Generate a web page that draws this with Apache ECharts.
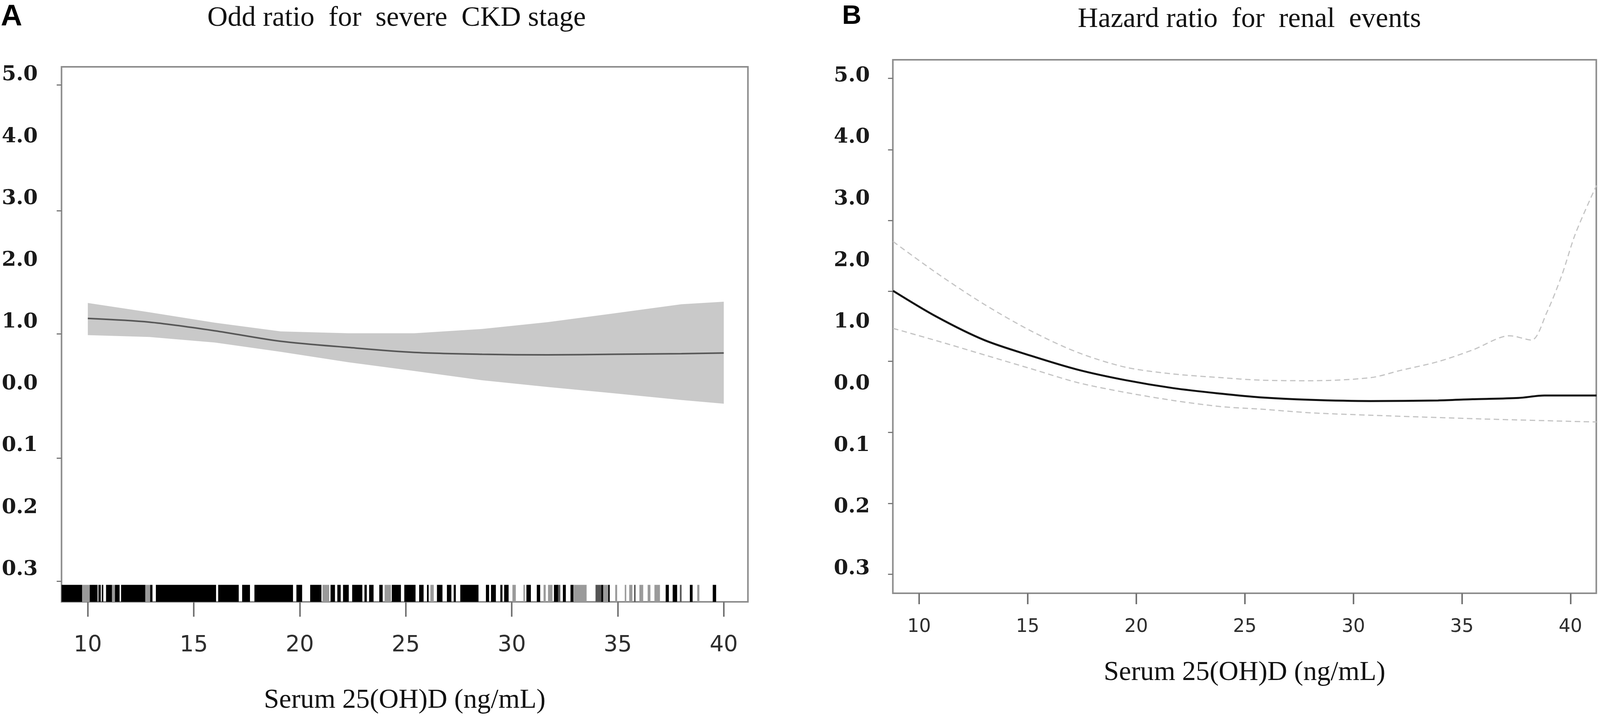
<html>
<head>
    <meta charset="utf-8">
    <script src="https://cdn.jsdelivr.net/npm/echarts@6/dist/echarts.min.js"></script>
    <style>
        body { margin: 0; background: #fff; overflow: hidden; }
        #main { width: 100vw; height: 100vh; }
    </style>
</head>
<body>
    <div id="main"></div>
    <script>
        // y positions are label slots: 0 = "0.3" at the bottom ... 8 = "5.0" at the top
        var yLabelText = ['0.3', '0.2', '0.1', '0.0', '1.0', '2.0', '3.0', '4.0', '5.0'];
        var yLabelPos = [0, 1, 2, 3, 4, 5, 6, 7, 8];
        var yTicksA = [-0.19, 1.80, 3.81, 5.80, 7.84];
        var yTicksB = [-0.09, 1.06, 2.21, 3.37, 4.50, 5.65, 6.80, 7.96];
        var xTicks = [10, 15, 20, 25, 30, 35, 40];

        // panel A: odds ratio curve with grey band
        var aX = [10, 12.9, 16, 19.1, 22.3, 25.4, 28.6, 31.7, 34.8, 38, 40];
        var aFit = [4.06, 4.00, 3.86, 3.69, 3.59, 3.51, 3.48, 3.47, 3.48, 3.49, 3.50];
        var aUpper = [4.31, 4.16, 3.99, 3.85, 3.82, 3.82, 3.89, 4.00, 4.14, 4.29, 4.33];
        var aLower = [3.79, 3.76, 3.67, 3.52, 3.35, 3.21, 3.06, 2.95, 2.85, 2.74, 2.68];

        // panel A rug: [from, to] in ng/mL
        var rugDark = [
            [8.76, 9.73], [10.09, 10.46], [10.50, 10.61], [10.66, 10.73], [10.86, 11.14],
            [11.28, 11.50], [11.57, 12.71], [12.94, 13.05], [13.21, 16.05], [16.15, 17.12],
            [17.28, 17.65], [17.86, 19.68], [19.84, 20.11], [20.49, 21.02], [21.45, 21.66],
            [21.77, 21.93], [22.04, 22.31], [22.47, 22.95], [23.05, 23.16], [23.27, 23.48],
            [23.75, 23.91], [24.34, 24.77], [24.93, 25.46], [25.63, 25.84], [26.00, 26.08],
            [26.47, 26.73], [26.94, 27.15], [27.26, 27.36], [27.57, 28.43], [28.78, 28.93],
            [29.02, 29.25], [29.46, 29.56], [29.64, 29.85], [30.69, 30.90], [31.18, 31.34],
            [31.99, 32.18], [32.41, 32.55], [32.77, 32.91], [34.22, 34.31], [34.55, 34.62],
            [37.26, 37.41], [37.59, 37.80], [38.40, 38.53], [39.48, 39.64]
        ];
        var rugMid = [
            [33.95, 34.22], [35.77, 35.84], [37.93, 38.01], [32.14, 32.29]
        ];
        var rugLight = [
            [9.73, 10.09], [11.14, 11.28], [12.71, 12.94], [21.07, 21.39], [24.00, 24.30],
            [26.16, 26.32], [30.03, 30.19], [30.55, 30.61], [31.50, 31.60], [31.71, 31.92],
            [32.92, 33.53], [34.31, 34.55], [34.88, 34.97], [35.33, 35.40], [35.54, 35.69],
            [36.02, 36.20], [36.41, 36.54], [36.73, 36.99], [38.75, 38.85]
        ];

        // panel B: hazard ratio curve with dashed limits
        var bFitX = [8.8, 10.8, 13, 15.2, 17.3, 19.5, 21.7, 23.9, 25.7, 28, 30.8, 33.9, 35.5, 37.6, 38.8, 41.2];
        var bFit = [4.51, 4.09, 3.71, 3.45, 3.23, 3.06, 2.93, 2.84, 2.78, 2.74, 2.72, 2.73, 2.75, 2.77, 2.81, 2.81];
        var bUpperX = [8.8, 10.8, 13, 15.2, 17.3, 19.5, 21.7, 23.9, 25.7, 28, 30.8, 32.2, 33.9, 35.5, 37.2, 38.2, 38.9, 39.6, 40.2, 40.9, 41.2];
        var bUpper = [5.31, 4.80, 4.29, 3.85, 3.51, 3.27, 3.16, 3.10, 3.06, 3.05, 3.10, 3.22, 3.36, 3.55, 3.78, 3.71, 4.15, 4.76, 5.41, 5.99, 6.22];
        var bLowerX = [8.8, 10.8, 13, 15.2, 17.3, 19.5, 21.7, 23.9, 25.7, 28, 30.8, 35.9, 41.2];
        var bLower = [3.90, 3.70, 3.47, 3.24, 3.02, 2.86, 2.73, 2.63, 2.59, 2.53, 2.49, 2.43, 2.38];

        var aYMin = -0.525, aYMax = 8.13;
        var bYMin = -0.40, bYMax = 8.26;
        var rugTop = -0.25;

        // layout was measured on a 4317x1850 figure; fit it to whatever window we get
        var W = window.innerWidth || 4317, H = window.innerHeight || 1850;
        var sx = W / 4317, sy = H / 1850;
        function px(v) { return v * sx; }
        function py(v) { return v * sy; }
        function fs(v) { return Math.round(v * sx * 10) / 10; }

        function pairs(xs, ys) {
            return xs.map(function (x, i) { return [x, ys[i]]; });
        }

        function rugRender(color) {
            return function (params, api) {
                var s = api.coord([api.value(0), rugTop]);
                var e = api.coord([api.value(1), aYMin]);
                var w = Math.max(e[0] - s[0], px(4));
                return {
                    type: 'rect',
                    shape: { x: s[0], y: s[1], width: w, height: e[1] - s[1] },
                    style: { fill: color }
                };
            };
        }

        function rugSeries(data, color) {
            return {
                type: 'custom',
                xAxisIndex: 0,
                yAxisIndex: 0,
                encode: { x: [0, 1] },
                data: data,
                renderItem: rugRender(color)
            };
        }

        var serif = '"Liberation Serif", "DejaVu Serif", serif';

        function xAxisFor(grid, min, max, labelSize, margin, tickLen, nameGap) {
            return {
                gridIndex: grid,
                type: 'value',
                min: min,
                max: max,
                axisLine: { show: false, onZero: false },
                splitLine: { show: false },
                axisTick: {
                    customValues: xTicks,
                    length: py(tickLen),
                    lineStyle: { color: '#737373', width: 4 }
                },
                axisLabel: {
                    customValues: xTicks,
                    fontFamily: 'DejaVu Sans',
                    fontSize: fs(labelSize),
                    color: '#2e2e2e',
                    margin: py(margin)
                },
                name: 'Serum 25(OH)D (ng/mL)',
                nameLocation: 'middle',
                nameGap: py(nameGap),
                nameTextStyle: { fontFamily: serif, fontSize: fs(74), color: '#111' }
            };
        }

        function yAxisFor(grid, min, max, ticks, margin) {
            return {
                gridIndex: grid,
                type: 'value',
                min: min,
                max: max,
                axisLine: { show: false, onZero: false },
                splitLine: { show: false },
                axisTick: {
                    customValues: ticks,
                    length: px(13),
                    lineStyle: { color: '#777', width: 3 }
                },
                axisLabel: {
                    customValues: yLabelPos,
                    fontFamily: 'DejaVu Serif',
                    fontWeight: 'bold',
                    fontSize: fs(56),
                    color: '#1a1a1a',
                    margin: px(margin),
                    formatter: function (v) { return yLabelText[Math.round(v)]; }
                }
            };
        }

        var myChart = echarts.init(document.getElementById('main'));
        var option = {
            animation: false,
            backgroundColor: '#fff',
            grid: [
                { left: px(166), top: py(171), width: px(1852), height: py(1369), show: true, borderColor: '#8c8c8c', borderWidth: 4 },
                { left: px(2409), top: py(153), width: px(1898), height: py(1365), show: true, borderColor: '#8c8c8c', borderWidth: 4 }
            ],
            xAxis: [
                xAxisFor(0, 8.76, 41.14, 60, 84, 38, 218),
                xAxisFor(1, 8.79, 41.19, 50, 63, 28, 169)
            ],
            yAxis: [
                yAxisFor(0, aYMin, aYMax, yTicksA, 64),
                yAxisFor(1, bYMin, bYMax, yTicksB, 62)
            ],
            graphic: [
                { type: 'text', left: px(2), top: py(6), style: { text: 'A', font: 'bold ' + fs(80) + 'px "Liberation Sans", Arial, sans-serif', fill: '#000' } },
                { type: 'text', left: px(2272), top: py(8), style: { text: 'B', font: 'bold ' + fs(72) + 'px "Liberation Sans", Arial, sans-serif', fill: '#000' } },
                { type: 'text', x: px(1070), y: py(47), style: { text: 'Odd ratio  for  severe  CKD stage', font: fs(76) + 'px ' + serif, fill: '#111', align: 'center', verticalAlign: 'middle' } },
                { type: 'text', x: px(3371), y: py(50), style: { text: 'Hazard ratio  for  renal  events', font: fs(76) + 'px ' + serif, fill: '#111', align: 'center', verticalAlign: 'middle' } }
            ],
            series: [
                {
                    name: 'band A',
                    type: 'custom',
                    xAxisIndex: 0,
                    yAxisIndex: 0,
                    data: [[aX[0], aUpper[0]]],
                    renderItem: function (params, api) {
                        var pts = [];
                        for (var i = 0; i < aX.length; i++) pts.push(api.coord([aX[i], aUpper[i]]));
                        for (var j = aX.length - 1; j >= 0; j--) pts.push(api.coord([aX[j], aLower[j]]));
                        return { type: 'polygon', shape: { points: pts }, style: { fill: '#c9c9c9' } };
                    }
                },
                {
                    name: 'OR',
                    type: 'line',
                    xAxisIndex: 0,
                    yAxisIndex: 0,
                    data: pairs(aX, aFit),
                    smooth: 0.3,
                    showSymbol: false,
                    lineStyle: { color: '#575757', width: 4 }
                },
                rugSeries(rugLight, '#9a9a9a'),
                rugSeries(rugMid, '#555'),
                rugSeries(rugDark, '#000'),
                {
                    name: 'HR upper',
                    type: 'line',
                    xAxisIndex: 1,
                    yAxisIndex: 1,
                    data: pairs(bUpperX, bUpper),
                    smooth: 0.3,
                    showSymbol: false,
                    lineStyle: { color: '#c4c4c4', width: 3, type: [14, 9] }
                },
                {
                    name: 'HR lower',
                    type: 'line',
                    xAxisIndex: 1,
                    yAxisIndex: 1,
                    data: pairs(bLowerX, bLower),
                    smooth: 0.3,
                    showSymbol: false,
                    lineStyle: { color: '#c4c4c4', width: 3, type: [14, 9] }
                },
                {
                    name: 'HR',
                    type: 'line',
                    xAxisIndex: 1,
                    yAxisIndex: 1,
                    data: pairs(bFitX, bFit),
                    smooth: 0.3,
                    showSymbol: false,
                    lineStyle: { color: '#111', width: 5 }
                }
            ]
        };

        myChart.setOption(option);
        window.onresize = myChart.resize;
    </script>
</body>
</html>
